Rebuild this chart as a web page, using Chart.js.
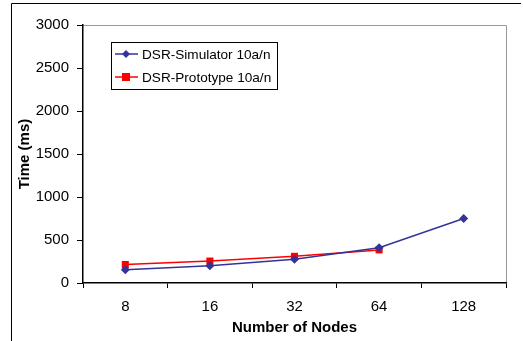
<!DOCTYPE html>
<html lang="en">
<head>
    <meta charset="utf-8">
    <title>DSR timing</title>
    <script src="https://cdn.jsdelivr.net/npm/chart.js"></script>
    <style>
        html, body { margin: 0; padding: 0; background: #fff; }
        #wrap { position: relative; width: 523px; height: 341px; }
    </style>
</head>
<body>
    <div id="wrap">
        <canvas id="timeChart" width="523" height="341"></canvas>
    </div>

    <script>
        // data
        const nodes = ['8', '16', '32', '64', '128'];
        const simulatorMs = [155, 200, 275, 410, 750];
        const prototypeMs = [215, 255, 310, 385, null];
        const yTicks = [0, 500, 1000, 1500, 2000, 2500, 3000];

        const FONT = '"Liberation Sans", Arial, sans-serif';

        // outer frame + gray top/right plot border
        const framePlugin = {
            id: 'frame',
            beforeDraw(chart) {
                const c = chart.ctx;
                const a = chart.chartArea;
                c.save();
                c.strokeStyle = '#999';
                c.lineWidth = 1;
                c.beginPath();
                c.moveTo(a.left, a.top + 0.5);
                c.lineTo(a.right + 0.5, a.top + 0.5);
                c.lineTo(a.right + 0.5, a.bottom);
                c.stroke();
                c.strokeStyle = '#000';
                c.beginPath();
                c.moveTo(11.5, 341);
                c.lineTo(11.5, 3.5);
                c.lineTo(521, 3.5);
                c.stroke();
                c.restore();
            }
        };

        // boxed legend inside the plot, top left
        const boxLegend = {
            id: 'boxLegend',
            afterDraw(chart) {
                const c = chart.ctx;
                const x = 111, y = 42, w = 166, h = 47;
                c.save();
                c.fillStyle = '#fff';
                c.fillRect(x, y, w, h);
                c.strokeStyle = '#000';
                c.lineWidth = 1;
                c.strokeRect(x + 0.5, y + 0.5, w, h);
                c.font = '13.6px ' + FONT;
                c.textBaseline = 'middle';
                chart.data.datasets.forEach((ds, i) => {
                    const ry = 54 + i * 23;
                    c.strokeStyle = ds.borderColor;
                    c.lineWidth = 1.5;
                    c.beginPath();
                    c.moveTo(115, ry);
                    c.lineTo(138, ry);
                    c.stroke();
                    c.fillStyle = ds.backgroundColor;
                    if (ds.pointStyle === 'rectRot') {
                        c.beginPath();
                        c.moveTo(126, ry - 4);
                        c.lineTo(130, ry);
                        c.lineTo(126, ry + 4);
                        c.lineTo(122, ry);
                        c.closePath();
                        c.fill();
                    } else {
                        c.fillRect(122, ry - 4, 8, 8);
                    }
                    c.fillStyle = '#000';
                    c.fillText(ds.label, 142, ry + 1);
                });
                c.restore();
            }
        };

        new Chart(document.getElementById('timeChart'), {
            type: 'line',
            data: {
                labels: nodes,
                datasets: [{
                    label: 'DSR-Simulator 10a/n',
                    data: simulatorMs,
                    borderColor: '#333399',
                    backgroundColor: '#333399',
                    borderWidth: 1.5,
                    pointStyle: 'rectRot',
                    pointRadius: 4.5,
                    pointBorderWidth: 0,
                    tension: 0
                }, {
                    label: 'DSR-Prototype 10a/n',
                    data: prototypeMs,
                    borderColor: '#ff0000',
                    backgroundColor: '#ff0000',
                    borderWidth: 1.5,
                    pointStyle: 'rect',
                    pointRadius: 5,
                    pointBorderWidth: 0,
                    tension: 0
                }]
            },
            options: {
                responsive: false,
                animation: false,
                layout: { padding: { left: 0, top: 25, right: 17, bottom: 0 } },
                plugins: {
                    legend: { display: false },
                    tooltip: { enabled: false }
                },
                scales: {
                    x: {
                        offset: true,
                        afterFit: (s) => { s.height = 58; },
                        grid: {
                            offset: true,
                            drawOnChartArea: false,
                            tickLength: 5,
                            color: '#000'
                        },
                        border: { color: '#000', width: 1.5 },
                        ticks: { color: '#000', padding: 10, font: { family: FONT, size: 15 } },
                        title: {
                            display: true,
                            text: 'Number of Nodes',
                            color: '#000',
                            padding: { top: 0, bottom: 4 },
                            font: { family: FONT, size: 15, weight: 'bold' }
                        }
                    },
                    y: {
                        min: 0,
                        max: 3000,
                        afterFit: (s) => { s.width = 83; },
                        afterBuildTicks: (s) => { s.ticks = yTicks.map(v => ({ value: v })); },
                        grid: {
                            drawOnChartArea: false,
                            tickLength: 6,
                            color: '#000'
                        },
                        border: { color: '#000', width: 1.5 },
                        ticks: {
                            color: '#000',
                            padding: 8,
                            font: { family: FONT, size: 15 },
                            callback: (v) => String(v)
                        },
                        title: {
                            display: true,
                            text: 'Time (ms)',
                            color: '#000',
                            padding: { top: 16, bottom: 0 },
                            font: { family: FONT, size: 15, weight: 'bold' }
                        }
                    }
                }
            },
            plugins: [framePlugin, boxLegend]
        });
    </script>
</body>
</html>
